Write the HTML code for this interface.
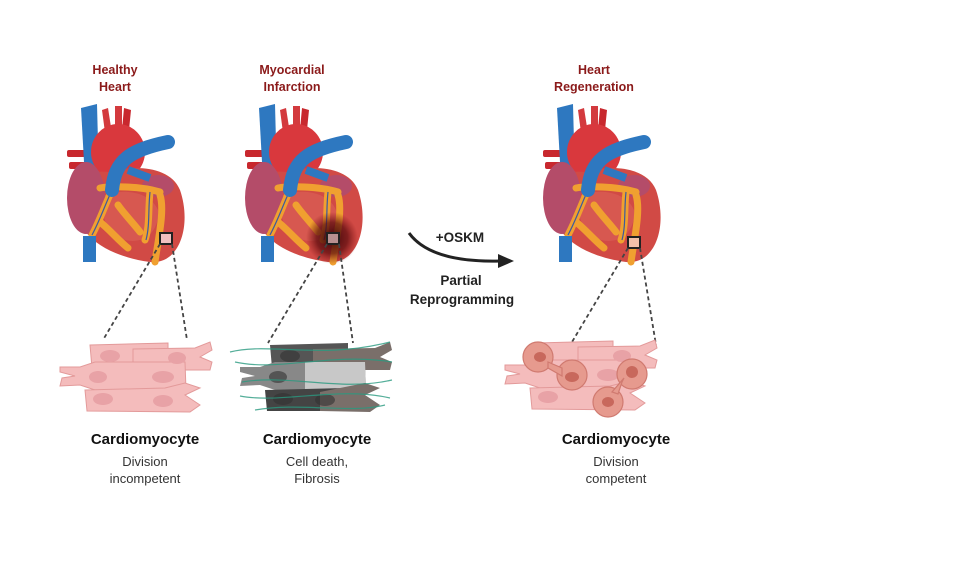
<!DOCTYPE html>
<html><head><meta charset="utf-8"><style>
html,body{margin:0;padding:0;background:#fff}
svg{display:block}
text{font-family:"Liberation Sans",Arial,sans-serif}
</style></head><body>
<svg width="966" height="564" viewBox="0 0 966 564" xmlns="http://www.w3.org/2000/svg">
<defs>
<g id="heart">
  <rect x="67" y="150" width="22" height="7" fill="#c8282e" rx="2"/>
  <rect x="69" y="162" width="20" height="7" fill="#c8282e" rx="2"/>
  <path d="M81,108 L97,104 L99,180 L85,180 Z" fill="#2e78c0"/>
  <path d="M102,110 L108,108 L113,140 L106,140 Z" fill="#d33a3e"/>
  <path d="M115,106 L122,106 L122,140 L115,140 Z" fill="#d33a3e"/>
  <path d="M124,108 L131,110 L128,140 L121,140 Z" fill="#c8282e"/>
  <ellipse cx="118" cy="152" rx="27" ry="28" fill="#d9383d"/>
  <!-- body -->
  <path d="M74,190 C70,230 100,255 150,262 C180,265 192,225 180,190 C170,165 130,165 110,172 C90,170 76,175 74,190 Z" fill="#d14a45"/>
  <path d="M105,195 C125,188 150,192 158,210 C160,230 145,245 125,240 C108,235 98,215 105,195 Z" fill="#da6258" opacity="0.6"/>
  <ellipse cx="86" cy="198" rx="19" ry="36" fill="#b44c69"/>
  <ellipse cx="158" cy="186" rx="16" ry="11" fill="#b44c69"/>
  <path d="M100,188 C110,186 140,186 160,192 M112,190 C105,205 100,220 92,235 M100,222 C110,230 118,240 128,248 M150,192 C148,210 150,225 145,240 M160,195 C165,210 158,240 155,262 M118,205 C125,215 135,225 140,232" stroke="#f0a030" stroke-width="7" fill="none" stroke-linecap="round"/>
  <path d="M112,190 C105,205 100,220 92,235 M150,192 C148,210 150,225 146,240" stroke="#3b5aa0" stroke-width="1.2" fill="none"/>
  <path d="M112,190 C115,160 130,150 168,142" stroke="#2e78c0" stroke-width="14" fill="none" stroke-linecap="round"/>
  <path d="M128,170 L150,178" stroke="#2e78c0" stroke-width="8"/>
  <rect x="83" y="236" width="13" height="26" fill="#2e78c0"/>
</g>
<g id="cells">
  <path d="M90,345 L168,343 L168,367 L92,368 Z"/>
  <path d="M133,349 L195,348 L210,342 L212,350 L200,357 L212,362 L210,370 L133,370 Z"/>
  <path d="M60,367 L80,367 L95,362 L185,362 L186,390 L95,390 L80,385 L60,386 L62,378 L75,376 L60,372 Z"/>
  <path d="M85,390 L165,388 L185,383 L200,388 L185,395 L200,405 L190,412 L87,411 Z"/>
</g>
</defs>

<g fill="#8b1a1a" font-weight="bold" font-size="12.5" text-anchor="middle">
<text x="115" y="74">Healthy</text><text x="115" y="91">Heart</text>
<text x="292" y="74">Myocardial</text><text x="292" y="91">Infarction</text>
<text x="594" y="74">Heart</text><text x="594" y="91">Regeneration</text>
</g>

<use href="#heart"/>
<use href="#heart" transform="translate(178,0)"/>
<radialGradient id="mi"><stop offset="0" stop-color="#3a0608" stop-opacity="0.95"/><stop offset="0.6" stop-color="#5a0a0c" stop-opacity="0.7"/><stop offset="1" stop-color="#7a1010" stop-opacity="0"/></radialGradient>
<ellipse cx="332" cy="238" rx="26" ry="26" fill="url(#mi)"/>
<use href="#heart" transform="translate(476,0)"/>

<rect x="160" y="233" width="12" height="11" fill="#f2c0c0" stroke="#222" stroke-width="2"/>
<rect x="327" y="233" width="12" height="11" fill="#b89090" stroke="#222" stroke-width="2"/>
<rect x="628" y="237" width="12" height="11" fill="#f2c0a8" stroke="#222" stroke-width="2"/>

<g stroke="#444" stroke-width="1.8" stroke-dasharray="4,3" fill="none">
<line x1="160" y1="244" x2="103" y2="340"/><line x1="172" y1="244" x2="187" y2="340"/>
<line x1="327" y1="244" x2="268" y2="343"/><line x1="339" y1="244" x2="353" y2="343"/>
<line x1="628" y1="248" x2="572" y2="342"/><line x1="640" y1="248" x2="656" y2="345"/>
</g>

<g fill="#f4bcbc" stroke="#e39a9a" stroke-width="1"><use href="#cells"/></g>
<g fill="#e8a2a6"><ellipse cx="110" cy="356" rx="10" ry="6"/><ellipse cx="177" cy="358" rx="9" ry="6"/><ellipse cx="98" cy="377" rx="9" ry="6"/><ellipse cx="163" cy="377" rx="11" ry="6"/><ellipse cx="103" cy="399" rx="10" ry="6"/><ellipse cx="163" cy="401" rx="10" ry="6"/></g>

<g transform="translate(180,0)">
<path d="M90,345 L168,343 L168,367 L92,368 Z" fill="#555"/>
<path d="M133,349 L195,348 L210,342 L212,350 L200,357 L212,362 L210,370 L133,370 Z" fill="#7a6f6a"/>
<path d="M60,367 L80,367 L95,362 L185,362 L186,390 L95,390 L80,385 L60,386 L62,378 L75,376 L60,372 Z" fill="#888"/>
<path d="M125,362 L185,362 L186,390 L125,390 Z" fill="#c8c8c8"/>
<path d="M85,390 L165,388 L165,411 L87,411 Z" fill="#444"/>
<path d="M140,392 L185,383 L200,388 L185,395 L200,405 L190,412 L140,411 Z" fill="#7a6f6a"/>
<g fill="#333" opacity="0.6"><ellipse cx="110" cy="356" rx="10" ry="6"/><ellipse cx="98" cy="377" rx="9" ry="6"/><ellipse cx="103" cy="399" rx="10" ry="6"/><ellipse cx="145" cy="400" rx="10" ry="6"/></g>
<g stroke="#2a9a80" stroke-width="1.2" fill="none" opacity="0.8">
<path d="M50,352 C90,342 140,360 210,342"/><path d="M55,362 C100,372 150,352 212,362"/>
<path d="M62,382 C110,374 160,392 212,380"/><path d="M60,396 C100,404 160,386 210,398"/>
<path d="M75,410 C120,402 170,414 205,405"/>
</g>
</g>

<g transform="translate(445,-2)">
<g fill="#f4bcbc" stroke="#e39a9a" stroke-width="1"><use href="#cells"/></g>
<g fill="#e8a2a6"><ellipse cx="177" cy="358" rx="9" ry="6"/><ellipse cx="163" cy="377" rx="11" ry="6"/><ellipse cx="103" cy="399" rx="10" ry="6"/></g>
</g>
<g fill="#e69a8e" stroke="#d07a70" stroke-width="1.2">
<circle cx="538" cy="357" r="15"/><circle cx="572" cy="375" r="15"/><circle cx="632" cy="374" r="15"/><circle cx="608" cy="402" r="15"/>
<path d="M548,362 L562,368 L562,376 L548,368 Z"/><path d="M622,382 L618,394 L612,392 L624,378 Z"/>
</g>
<g fill="#c8685c"><ellipse cx="540" cy="357" rx="6" ry="5"/><ellipse cx="572" cy="377" rx="7" ry="5"/><ellipse cx="632" cy="372" rx="6" ry="6"/><ellipse cx="608" cy="402" rx="6" ry="5"/></g>

<path d="M409,233 C425,255 460,262 500,261" stroke="#222" stroke-width="3" fill="none"/>
<path d="M498,254 L514,261 L498,268 Z" fill="#222"/>
<g font-weight="bold" font-size="13.5" fill="#222" text-anchor="middle">
<text x="460" y="242">+OSKM</text>
<text x="461" y="285">Partial</text>
<text x="462" y="304">Reprogramming</text>
</g>

<g text-anchor="middle" fill="#111">
<g font-weight="bold" font-size="15"><text x="145" y="444">Cardiomyocyte</text><text x="317" y="444">Cardiomyocyte</text><text x="616" y="444">Cardiomyocyte</text></g>
<g font-size="13" fill="#333"><text x="145" y="466">Division</text><text x="145" y="483">incompetent</text>
<text x="317" y="466">Cell death,</text><text x="317" y="483">Fibrosis</text>
<text x="616" y="466">Division</text><text x="616" y="483">competent</text></g>
</g>
</svg>
</body></html>
